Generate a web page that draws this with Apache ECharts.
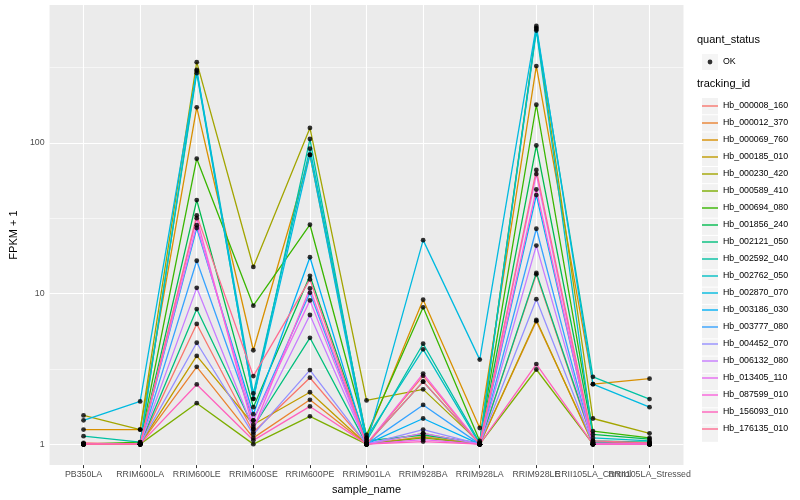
<!DOCTYPE html>
<html><head><meta charset="utf-8">
<script src="https://cdn.jsdelivr.net/npm/echarts@6/dist/echarts.min.js"></script>
<style>html,body{margin:0;padding:0;background:#fff}#c{width:800px;height:500px}</style>
</head><body><div id="c"></div>
<script>
const sampleNames = ['PB350LA','RRIM600LA','RRIM600LE','RRIM600SE','RRIM600PE','RRIM901LA','RRIM928BA','RRIM928LA','RRIM928LE','RRII105LA_Control','RRII105LA_Stressed'];

const Hb_000008_160 = [1.02, 1.0, 6.28, 1.2, 2.76, 1.0, 2.84, 1.0, 13.4, 1.03, 1.02];
const Hb_000012_370 = [1.0, 1.0, 3.26, 1.1, 1.97, 1.0, 1.12, 1.0, 6.55, 1.02, 1.0];
const Hb_000069_760 = [1.25, 1.25, 172, 4.2, 83, 1.1, 9.09, 1.28, 323, 2.5, 2.72];
const Hb_000185_010 = [1.0, 1.0, 3.85, 1.35, 2.21, 1.0, 1.18, 1.0, 6.67, 1.0, 1.0];
const Hb_000230_420 = [1.55, 1.25, 343, 15, 125.6, 1.95, 2.31, 1.02, 580, 1.48, 1.18];
const Hb_000589_410 = [1.0, 1.0, 1.87, 1.0, 1.53, 1.0, 1.1, 1.0, 3.13, 1.0, 1.0];
const Hb_000694_080 = [1.0, 1.03, 78.5, 8.3, 28.6, 1.15, 8.09, 1.05, 179, 1.22, 1.1];
const Hb_001856_240 = [1.0, 1.0, 41.7, 1.76, 13.1, 1.05, 1.15, 1.02, 96, 1.16, 1.08];
const Hb_002121_050 = [1.0, 1.0, 7.88, 1.3, 5.08, 1.0, 2.6, 1.0, 13.7, 1.05, 1.03];
const Hb_002592_040 = [1.13, 1.03, 290, 2.0, 106, 1.05, 4.64, 1.02, 570, 2.8, 1.99];
const Hb_002762_050 = [1.0, 1.0, 305, 2.17, 91.5, 1.1, 4.26, 1.0, 556, 1.1, 1.05];
const Hb_002870_070 = [1.44, 1.92, 300, 2.0, 83.4, 1.0, 22.6, 3.64, 597, 2.5, 1.76];
const Hb_003186_030 = [1.0, 1.0, 27.2, 1.58, 17.4, 1.0, 1.48, 1.0, 45, 1.02, 1.0];
const Hb_003777_080 = [1.0, 1.0, 16.5, 1.44, 10.1, 1.0, 1.82, 1.0, 26.9, 1.0, 1.0];
const Hb_004452_070 = [1.0, 1.0, 4.71, 1.16, 3.1, 1.0, 1.25, 1.0, 9.17, 1.0, 1.0];
const Hb_006132_080 = [1.0, 1.0, 10.9, 1.26, 7.2, 1.0, 1.18, 1.0, 20.8, 1.0, 1.0];
const Hb_013405_110 = [1.0, 1.0, 28.4, 1.44, 9.0, 1.0, 1.07, 1.0, 62, 1.0, 1.0];
const Hb_087599_010 = [1.0, 1.0, 31.6, 1.26, 10.8, 1.0, 2.94, 1.0, 49, 1.0, 1.0];
const Hb_156093_010 = [1.0, 1.0, 2.49, 1.06, 1.78, 1.0, 1.04, 1.0, 3.4, 1.0, 1.0];
const Hb_176135_010 = [1.0, 1.0, 33, 2.83, 12.4, 1.0, 2.6, 1.0, 66, 1.05, 1.02];

const trackingIds = ['Hb_000008_160','Hb_000012_370','Hb_000069_760','Hb_000185_010','Hb_000230_420','Hb_000589_410','Hb_000694_080','Hb_001856_240','Hb_002121_050','Hb_002592_040','Hb_002762_050','Hb_002870_070','Hb_003186_030','Hb_003777_080','Hb_004452_070','Hb_006132_080','Hb_013405_110','Hb_087599_010','Hb_156093_010','Hb_176135_010'];
const seriesValues = [Hb_000008_160,Hb_000012_370,Hb_000069_760,Hb_000185_010,Hb_000230_420,Hb_000589_410,Hb_000694_080,Hb_001856_240,Hb_002121_050,Hb_002592_040,Hb_002762_050,Hb_002870_070,Hb_003186_030,Hb_003777_080,Hb_004452_070,Hb_006132_080,Hb_013405_110,Hb_087599_010,Hb_156093_010,Hb_176135_010];
const lineColors = ['#F8766D','#EA8331','#D89000','#C09B00','#A3A500','#7CAE00','#39B600','#00BB4E','#00BF7D','#00C1A3','#00BFC4','#00BAE0','#00B0F6','#35A2FF','#9590FF','#C77CFF','#E76BF3','#FA62DB','#FF62BC','#FF6C91'];
const yTickValues = [1, 10, 100];
const yMinorValues = [3.1623, 31.623, 316.23];

const FONT = 'Liberation Sans, Arial, Helvetica, sans-serif';
const chart = echarts.init(document.getElementById('c'));

const series = [];
const gridLines = [];
sampleNames.forEach((n, i) => gridLines.push({xAxis: i, lineStyle: {color: '#fff', width: 1.1, type: 'solid'}}));
yTickValues.forEach(v => gridLines.push({yAxis: v, lineStyle: {color: '#fff', width: 1.1, type: 'solid'}}));
yMinorValues.forEach(v => gridLines.push({yAxis: v, lineStyle: {color: '#fff', width: 0.55, type: 'solid'}}));
series.push({
  type: 'line', name: '_grid', data: [], silent: true, z: 1, xAxisIndex: 0,
  markLine: {silent: true, symbol: 'none', z: 1, animation: false, label: {show: false}, data: gridLines}
});
trackingIds.forEach((id, k) => {
  series.push({
    name: id, type: 'line', z: 2, xAxisIndex: 0,
    data: seriesValues[k].map((v, i) => [i, v]),
    showSymbol: false, symbol: 'none',
    lineStyle: {width: 1.3, color: lineColors[k]},
    itemStyle: {color: lineColors[k]},
    emphasis: {disabled: true}, silent: true
  });
});
const points = [];
seriesValues.forEach(arr => arr.forEach((v, i) => points.push([i, v])));
series.push({name: 'OK', type: 'scatter', xAxisIndex: 0, data: points, symbol: 'circle', symbolSize: 4.8, itemStyle: {color: '#000'}, z: 3, silent: true});

const keyBg = '#F2F2F2';
const lineIcon = 'path://M0,0L0,0M0,7.3L16,7.3L16,8.7L0,8.7ZM16,16L16,16';
const dotIcon = 'path://M0,0L0,0M5.6,8a2.4,2.4 0 1,0 4.8,0a2.4,2.4 0 1,0 -4.8,0ZM16,16L16,16';
const xIdx = sampleNames.map((n, i) => i);
const evenIdx = xIdx.filter(i => i % 2 === 0);
const oddIdx = xIdx.filter(i => i % 2 === 1);

const xLabelStyle = {fontSize: 8.8, color: '#4D4D4D', margin: 5, fontFamily: FONT, hideOverlap: false, showMinLabel: true, showMaxLabel: true, formatter: v => sampleNames[Math.round(v)]};

chart.setOption({
  animation: false,
  textStyle: {fontFamily: FONT},
  title: [
    {text: 'quant_status', left: 697, top: 34, padding: 0, textStyle: {fontSize: 11, fontWeight: 'normal', color: '#000', fontFamily: FONT}},
    {text: 'tracking_id', left: 697, top: 78, padding: 0, textStyle: {fontSize: 11, fontWeight: 'normal', color: '#000', fontFamily: FONT}}
  ],
  grid: {left: 39.5, right: 116.5, top: 5, bottom: 32, show: true, backgroundColor: '#EBEBEB', borderWidth: 0, containLabel: false},
  xAxis: [
    {
      type: 'value', min: -0.6, max: 10.6, position: 'bottom',
      name: 'sample_name', nameLocation: 'middle', nameGap: 17,
      nameTextStyle: {fontSize: 11, color: '#000', fontFamily: FONT},
      axisLine: {show: false},
      splitLine: {show: false},
      axisTick: {show: true, length: 3, lineStyle: {color: '#333', width: 1}, customValues: xIdx},
      axisLabel: Object.assign({customValues: evenIdx}, xLabelStyle)
    },
    {
      type: 'value', min: -0.6, max: 10.6, position: 'bottom', offset: 0,
      axisLine: {show: false}, splitLine: {show: false}, axisTick: {show: false},
      axisLabel: Object.assign({customValues: oddIdx}, xLabelStyle)
    }
  ],
  yAxis: {
    type: 'log', logBase: 10, min: 0.726, max: 822,
    name: 'FPKM + 1', nameLocation: 'middle', nameGap: 27, nameRotate: 90,
    nameTextStyle: {fontSize: 11, color: '#000', fontFamily: FONT},
    axisLine: {show: false},
    splitLine: {show: false},
    minorSplitLine: {show: false},
    axisTick: {show: true, length: 3, lineStyle: {color: '#333', width: 1}, customValues: yTickValues},
    axisLabel: {customValues: yTickValues, formatter: v => String(Math.round(v)), fontSize: 8.8, color: '#4D4D4D', margin: 5, fontFamily: FONT, showMinLabel: true, showMaxLabel: true}
  },
  legend: [
    {left: 697, top: 49, orient: 'vertical', itemWidth: 16, itemHeight: 16, itemGap: 1, selectedMode: false, z: 1,
     data: [{name: 'OK', icon: 'rect', itemStyle: {color: keyBg}}], textStyle: {color: 'rgba(0,0,0,0)', fontSize: 8.8}},
    {left: 697, top: 49, orient: 'vertical', itemWidth: 16, itemHeight: 16, itemGap: 1, selectedMode: false, z: 2,
     data: [{name: 'OK', icon: dotIcon, itemStyle: {color: '#000'}}], textStyle: {color: '#000', fontSize: 8.8, fontFamily: FONT}},
    {left: 697, top: 93, orient: 'vertical', itemWidth: 16, itemHeight: 16.24, itemGap: 1, selectedMode: false, z: 1,
     data: trackingIds.map(n => ({name: n, icon: 'rect', itemStyle: {color: keyBg}})), textStyle: {color: 'rgba(0,0,0,0)', fontSize: 8.8}},
    {left: 697, top: 93, orient: 'vertical', itemWidth: 16, itemHeight: 16.24, itemGap: 1, selectedMode: false, z: 2,
     data: trackingIds.map((n, k) => ({name: n, icon: lineIcon, itemStyle: {color: lineColors[k]}})), textStyle: {color: '#000', fontSize: 8.8, fontFamily: FONT}}
  ],
  series: series
});
</script></body></html>
